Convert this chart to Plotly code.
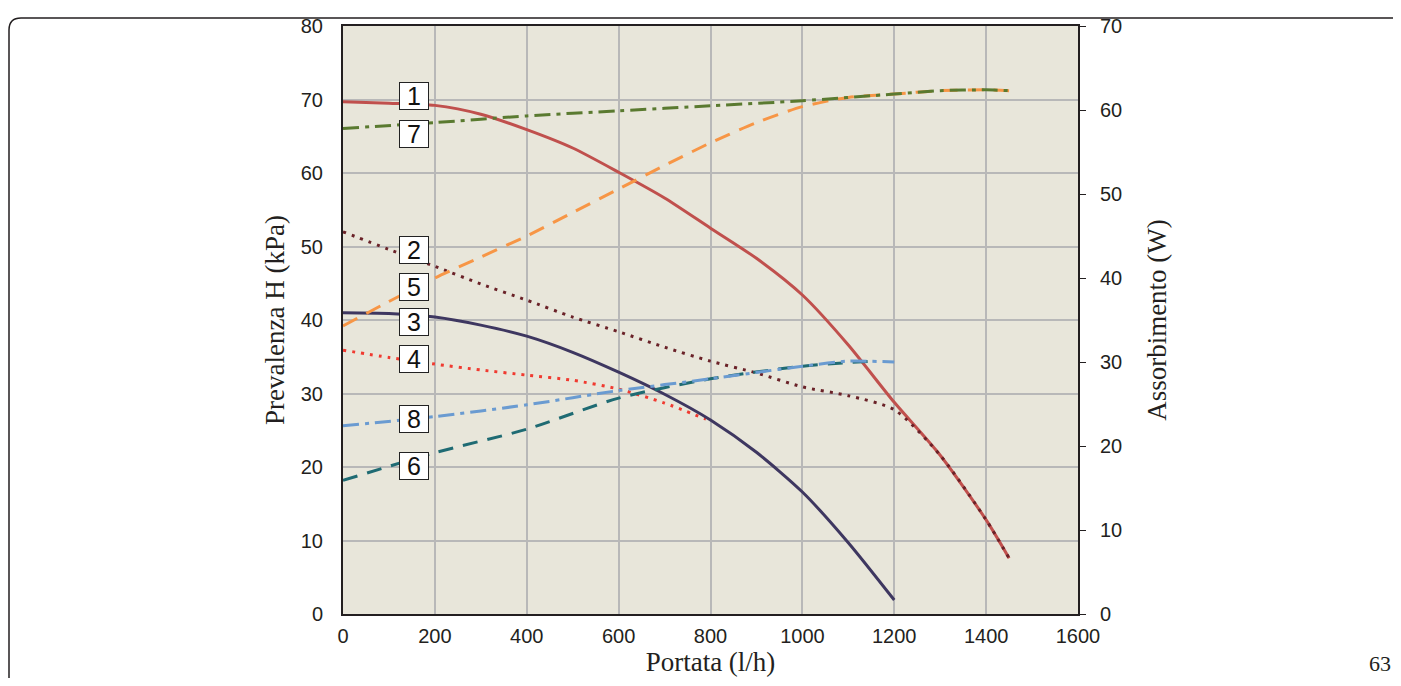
import plotly.graph_objects as go
from plotly.subplots import make_subplots

# flow rate (l/h) and head (kPa) curves, left axis
x1 = [0, 100, 200, 300, 400, 500, 600, 700, 800, 900, 1000, 1100, 1200, 1300, 1400, 1450]
h1 = [69.7, 69.5, 69.2, 68.0, 65.9, 63.4, 60.1, 56.6, 52.5, 48.4, 43.4, 36.6, 28.8, 21.6, 12.8, 7.6]

x2 = [0, 100, 200, 300, 400, 500, 600, 700, 800, 900, 1000, 1100, 1200, 1300, 1400, 1450]
h2 = [52.0, 49.6, 47.3, 44.9, 42.7, 40.4, 38.4, 36.3, 34.4, 32.8, 30.9, 29.7, 27.8, 21.6, 12.8, 7.6]

x3 = [0, 100, 200, 300, 400, 500, 600, 700, 800, 900, 1000, 1100, 1200]
h3 = [41.0, 40.9, 40.4, 39.3, 37.8, 35.6, 32.9, 29.9, 26.4, 22.0, 16.6, 9.7, 1.9]

x4 = [0, 100, 200, 300, 400, 500, 600, 700, 790]
h4 = [35.9, 34.9, 34.0, 33.2, 32.5, 31.8, 30.6, 28.7, 26.5]

# power absorption (W) curves, right axis
x5 = [0, 100, 200, 300, 400, 500, 600, 700, 800, 900, 1000, 1100, 1200, 1300, 1400, 1450]
w5 = [34.3, 37.2, 40.0, 42.5, 45.0, 47.8, 50.6, 53.4, 56.1, 58.5, 60.4, 61.5, 61.9, 62.3, 62.4, 62.3]

x6 = [0, 200, 400, 600, 800, 1000, 1150]
w6 = [15.9, 19.2, 22.0, 25.7, 28.0, 29.5, 30.1]

x7 = [0, 200, 400, 600, 800, 1000, 1200, 1300, 1400, 1450]
w7 = [57.8, 58.5, 59.3, 59.9, 60.5, 61.1, 61.9, 62.3, 62.4, 62.3]

x8 = [0, 200, 400, 600, 800, 1000, 1100, 1200]
w8 = [22.4, 23.5, 24.9, 26.6, 28.0, 29.5, 30.1, 30.0]

curve_labels = ["1", "7", "2", "5", "3", "4", "8", "6"]

fig = make_subplots(specs=[[{"secondary_y": True}]])

def add(x, y, color, dash, sec, width=3):
    fig.add_trace(
        go.Scatter(x=x, y=y, mode="lines", line=dict(color=color, width=width, dash=dash, shape="spline", smoothing=0.7),
                   hoverinfo="skip"),
        secondary_y=sec,
    )

add(x5, w5, "#F79646", "16px,10px", True)
add(x6, w6, "#1F6B73", "15px,10px", True)
add(x8, w8, "#6A9BD1", "16px,6px,4px,6px", True)
add(x7, w7, "#5A7A30", "16px,6px,4px,6px", True)
add(x4, h4, "#F03A30", "3px,6px", False)
add(x3, h3, "#3E3760", "solid", False)
add(x1, h1, "#C0504D", "solid", False)
add(x2, h2, "#6A2228", "3px,6px", False)

# numbered tags next to the curves
tag_y = [70.5, 65.3, 49.5, 44.5, 39.7, 34.7, 26.5, 20.1]
for lab, ty in zip(curve_labels, tag_y):
    fig.add_annotation(x=155, y=ty, xref="x", yref="y", text=lab, showarrow=False,
                       font=dict(family="Liberation Sans", size=25, color="#111111"),
                       bgcolor="white", bordercolor="#222222", borderwidth=1,
                       width=28, height=26, borderpad=0)

# the page adds an 8px body margin, so the figure is 16px smaller than the window
W, H = 1385, 670
L, R, T, B = 335, 1070, 18, 606
def px(x):
    return (x - L) / (R - L)
def py(y):
    return (B - y) / (B - T)
r = 12
path = (f"M {px(1)},{py(700)} L {px(1)},{py(10 + r)} "
        f"Q {px(1)},{py(10)} {px(1 + r)},{py(10)} L {px(1420)},{py(10)}")
fig.add_shape(type="path", path=path, xref="paper", yref="paper",
              line=dict(color="#231F20", width=1.5), layer="below")

fig.add_annotation(x=px(1385), y=py(670), xref="paper", yref="paper", text="63", showarrow=False,
                   xanchor="right", yanchor="bottom",
                   font=dict(family="Liberation Serif", size=22, color="#231F20"))

tick_font = dict(family="Liberation Sans", size=20, color="#231F20")
title_font = dict(family="Liberation Serif", size=27, color="#231F20")

fig.update_layout(
    width=W, height=H,
    margin=dict(l=L, r=W - R, t=T, b=H - B, autoexpand=False),
    paper_bgcolor="white",
    plot_bgcolor="#E8E6DA",
    showlegend=False,
)
fig.update_xaxes(domain=[0, 1], range=[0, 1600], dtick=200, showgrid=True, gridcolor="#B8B8B8", gridwidth=1.5,
                 showline=True, linecolor="#231F20", linewidth=2, mirror=True,
                 zeroline=False, tickfont=tick_font, ticklabelstandoff=3, automargin=False,
                 title=dict(text="Portata (l/h)", font=title_font, standoff=0))
fig.update_yaxes(range=[0, 80], dtick=10, showgrid=True, gridcolor="#B8B8B8", gridwidth=1.5,
                 showline=True, linecolor="#231F20", linewidth=2, zeroline=False,
                 tickfont=tick_font, ticklabelstandoff=14, automargin=False,
                 title=dict(text="Prevalenza H (kPa)", font=title_font, standoff=8),
                 secondary_y=False)
fig.update_yaxes(range=[0, 70], dtick=10, showgrid=False,
                 showline=True, linecolor="#231F20", linewidth=2, zeroline=False,
                 ticks="outside", ticklen=6, tickcolor="#231F20",
                 tickfont=tick_font, ticklabelstandoff=10, automargin=False,
                 title=dict(text="Assorbimento (W)", font=title_font, standoff=26),
                 secondary_y=True)

fig.write_html("out.html")
